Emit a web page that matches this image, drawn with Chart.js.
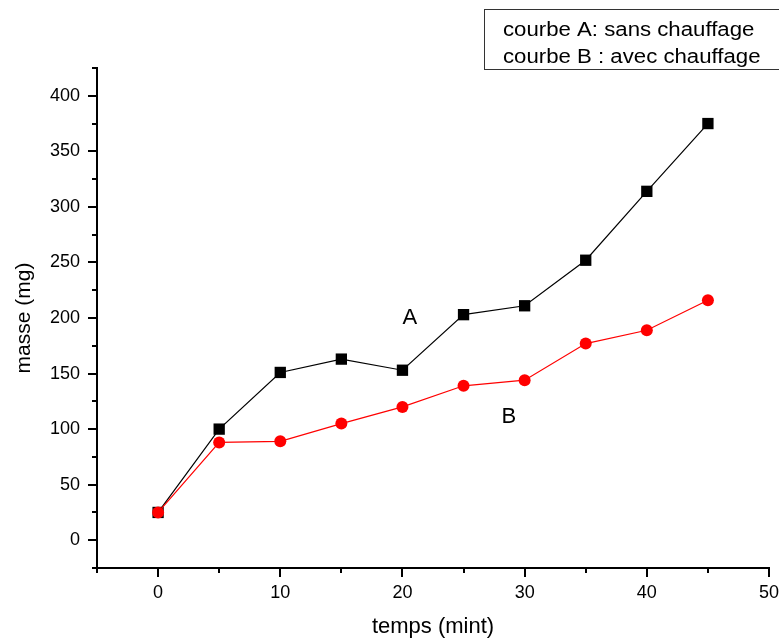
<!DOCTYPE html>
<html>
<head>
<meta charset="utf-8">
<script src="https://cdn.jsdelivr.net/npm/chart.js@4.4.0/dist/chart.umd.min.js"></script>
<style>
  html, body { margin: 0; padding: 0; background: #fff; }
  canvas { display: block; }
</style>
</head>
<body>
<canvas id="masseChart" width="779" height="640"></canvas>
<script>
// temps (min) et masse (mg)
const temps = [0, 5, 10, 15, 20, 25, 30, 35, 40, 45];
const masseA = [25, 100, 151, 163, 153, 203, 211, 252, 314, 375];
const masseB = [25, 88, 89, 105, 120, 139, 144, 177, 189, 216];

const xTicks = [0, 10, 20, 30, 40, 50];
const xMinor = [-5, 5, 15, 25, 35, 45];
const yTicks = [0, 50, 100, 150, 200, 250, 300, 350, 400];
const yMinor = [-25, 25, 75, 125, 175, 225, 275, 325, 375, 425];

const legendLines = ['courbe A: sans chauffage', 'courbe B : avec chauffage'];
const curveNames = ['A', 'B'];

const FONT = "'Liberation Sans', Arial, sans-serif";

function toPoints(ys) {
    return temps.map((t, i) => ({ x: t, y: ys[i] }));
}

// texte un peu elargi comme sur la figure d'origine
function wideText(ctx, txt, x, y, sx) {
    ctx.save();
    ctx.translate(x, y);
    ctx.scale(sx, 1);
    ctx.fillText(txt, 0, 0);
    ctx.restore();
}

// petits traits des axes (majeurs + mineurs), legende encadree, lettres A et B
const originPlugin = {
    id: 'originPlugin',
    afterDraw(chart) {
        const { ctx, chartArea, scales } = chart;
        const x = scales.x, y = scales.y;
        ctx.save();
        ctx.strokeStyle = '#000';
        ctx.lineWidth = 2;
        ctx.beginPath();
        xTicks.forEach(v => {
            const px = Math.round(x.getPixelForValue(v));
            ctx.moveTo(px, chartArea.bottom); ctx.lineTo(px, chartArea.bottom + 9);
        });
        xMinor.forEach(v => {
            const px = Math.round(x.getPixelForValue(v));
            ctx.moveTo(px, chartArea.bottom); ctx.lineTo(px, chartArea.bottom + 5);
        });
        yTicks.forEach(v => {
            const py = Math.round(y.getPixelForValue(v));
            ctx.moveTo(chartArea.left, py); ctx.lineTo(chartArea.left - 9, py);
        });
        yMinor.forEach(v => {
            const py = Math.round(y.getPixelForValue(v));
            ctx.moveTo(chartArea.left, py); ctx.lineTo(chartArea.left - 5, py);
        });
        ctx.stroke();

        // lettres sur les courbes
        ctx.fillStyle = '#000';
        ctx.font = '22px ' + FONT;
        ctx.textAlign = 'center';
        ctx.textBaseline = 'middle';
        ctx.fillText(curveNames[0], x.getPixelForValue(20.6), y.getPixelForValue(200));
        ctx.fillText(curveNames[1], x.getPixelForValue(28.7), y.getPixelForValue(111));

        // cadre de legende
        ctx.fillStyle = '#fff';
        ctx.fillRect(484, 9, 300, 60);
        ctx.strokeStyle = '#333';
        ctx.lineWidth = 1;
        ctx.strokeRect(484.5, 9.5, 300, 60);
        ctx.fillStyle = '#000';
        ctx.font = '20px ' + FONT;
        ctx.textAlign = 'left';
        ctx.textBaseline = 'alphabetic';
        wideText(ctx, legendLines[0], 503, 36, 1.11);
        wideText(ctx, legendLines[1], 503, 63, 1.11);
        ctx.restore();
    }
};

document.addEventListener('DOMContentLoaded', () => {
    const ctx = document.getElementById('masseChart').getContext('2d');
    new Chart(ctx, {
        type: 'line',
        data: {
            datasets: [{
                label: legendLines[0],
                data: toPoints(masseA),
                borderColor: '#000',
                backgroundColor: '#000',
                borderWidth: 1.2,
                pointStyle: 'rect',
                pointRadius: 8,
                pointBorderWidth: 0,
                order: 2
            }, {
                label: legendLines[1],
                data: toPoints(masseB),
                borderColor: '#ff0000',
                backgroundColor: '#ff0000',
                borderWidth: 1.2,
                pointStyle: 'circle',
                pointRadius: 6,
                pointBorderWidth: 0,
                order: 1
            }]
        },
        options: {
            responsive: false,
            animation: false,
            layout: { padding: { left: 0, right: 10, top: 68, bottom: 0 } },
            plugins: {
                legend: { display: false },
                tooltip: { enabled: false }
            },
            scales: {
                x: {
                    type: 'linear',
                    min: -5,
                    max: 50,
                    afterBuildTicks: s => { s.ticks = xTicks.map(v => ({ value: v })); },
                    afterFit: s => { s.height = 72; s.paddingLeft = 0; s.paddingRight = 0; },
                    grid: { display: false, drawTicks: false },
                    border: { display: true, color: '#000', width: 2 },
                    ticks: { color: '#000', padding: 14, maxRotation: 0, font: { family: FONT, size: 18 } },
                    title: {
                        display: true, text: 'temps (mint)', color: '#000',
                        padding: { top: 0, bottom: 0 },
                        font: { family: FONT, size: 22 }
                    }
                },
                y: {
                    type: 'linear',
                    min: -25,
                    max: 425,
                    afterBuildTicks: s => { s.ticks = yTicks.map(v => ({ value: v })); },
                    afterFit: s => { s.width = 97; s.paddingTop = 0; s.paddingBottom = 0; },
                    grid: { display: false, drawTicks: false },
                    border: { display: true, color: '#000', width: 2 },
                    ticks: { color: '#000', padding: 17, font: { family: FONT, size: 18 } },
                    title: {
                        display: true, text: 'masse (mg)', color: '#000',
                        padding: { top: 12, bottom: 0 },
                        font: { family: FONT, size: 21 }
                    }
                }
            }
        },
        plugins: [originPlugin]
    });
});
</script>
</body>
</html>
